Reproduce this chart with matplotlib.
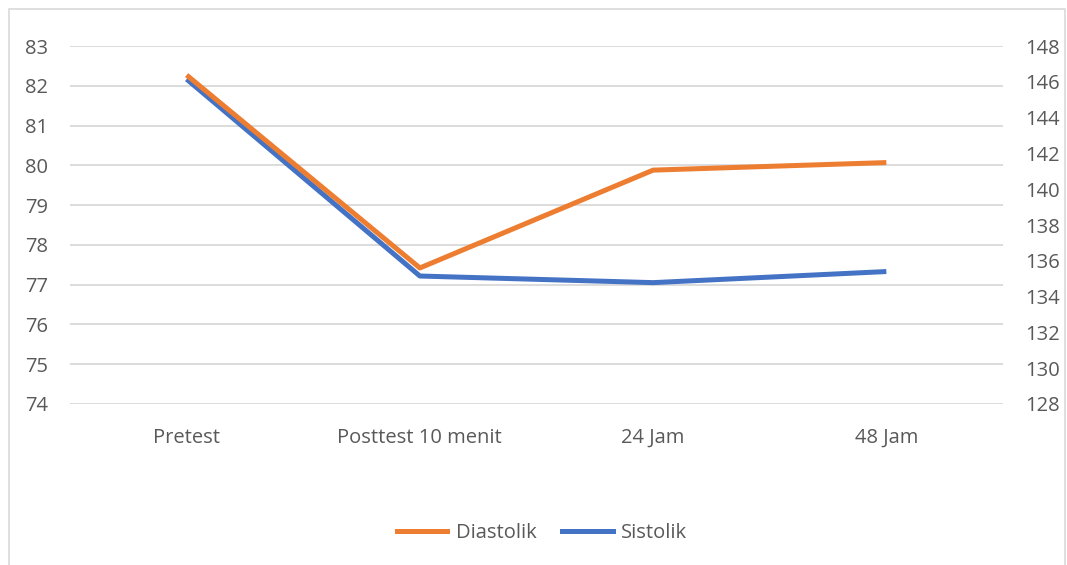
import matplotlib.pyplot as plt
from matplotlib.lines import Line2D

# Data
categories = ["Pretest", "Posttest 10 menit", "24 Jam", "48 Jam"]
diastolik = [82.27, 77.42, 79.88, 80.07]
sistolik = [146.15, 135.15, 134.78, 135.4]
left_ticks = list(range(74, 84))
right_ticks = list(range(128, 149, 2))

orange = "#ED7D31"
blue = "#4472C4"
text_col = "#595959"
grid_col = "#D9D9D9"
fs = 14.5

plt.rcParams["font.family"] = ["Open Sans", "DejaVu Sans"]

fig = plt.figure(figsize=(10.67, 5.65), dpi=100)
ax = fig.add_axes([0.0656, 0.285, 0.8744, 0.6335])
ax2 = ax.twinx()   # right axis, Sistolik
ax3 = ax.twinx()   # left scale again, Diastolik on top

x = list(range(len(categories)))

# Left axis: ticks and gridlines only
ax.set_ylim(74, 83)
ax.set_yticks(left_ticks)
ax.set_xlim(-0.5, len(categories) - 0.5)
ax.set_xticks(x)
ax.set_xticklabels(categories)
ax.grid(axis="y", color=grid_col, lw=1.3)

# Right axis: Sistolik
ax2.plot(x, sistolik, color=blue, lw=3.6, solid_capstyle="butt")
ax2.set_ylim(128, 148)
ax2.set_yticks(right_ticks)

# Diastolik on the left scale
ax3.plot(x, diastolik, color=orange, lw=3.6, solid_capstyle="butt")
ax3.set_ylim(74, 83)
ax3.set_yticks([])

for a in (ax, ax2, ax3):
    for s in a.spines.values():
        s.set_visible(False)
    a.tick_params(length=0, labelsize=fs, colors=text_col)
ax.tick_params(axis="y", pad=16)
ax2.tick_params(axis="y", pad=16)
ax.tick_params(axis="x", pad=17)

handles = [Line2D([0], [0], color=orange, lw=3.6),
           Line2D([0], [0], color=blue, lw=3.6)]
fig.legend(handles, ["Diastolik", "Sistolik"], loc="center",
           bbox_to_anchor=(0.508, 0.056), ncol=2, frameon=False,
           fontsize=fs, labelcolor=text_col, handlelength=2.5,
           columnspacing=1.3, handletextpad=0.4)

# chart border
fig.add_artist(Line2D([0.0085, 0.0085, 0.9985, 0.9985],
                      [0.0, 0.9845, 0.9845, 0.0],
                      transform=fig.transFigure, color=grid_col, lw=1.2))

fig.savefig("out.png", dpi=100)
